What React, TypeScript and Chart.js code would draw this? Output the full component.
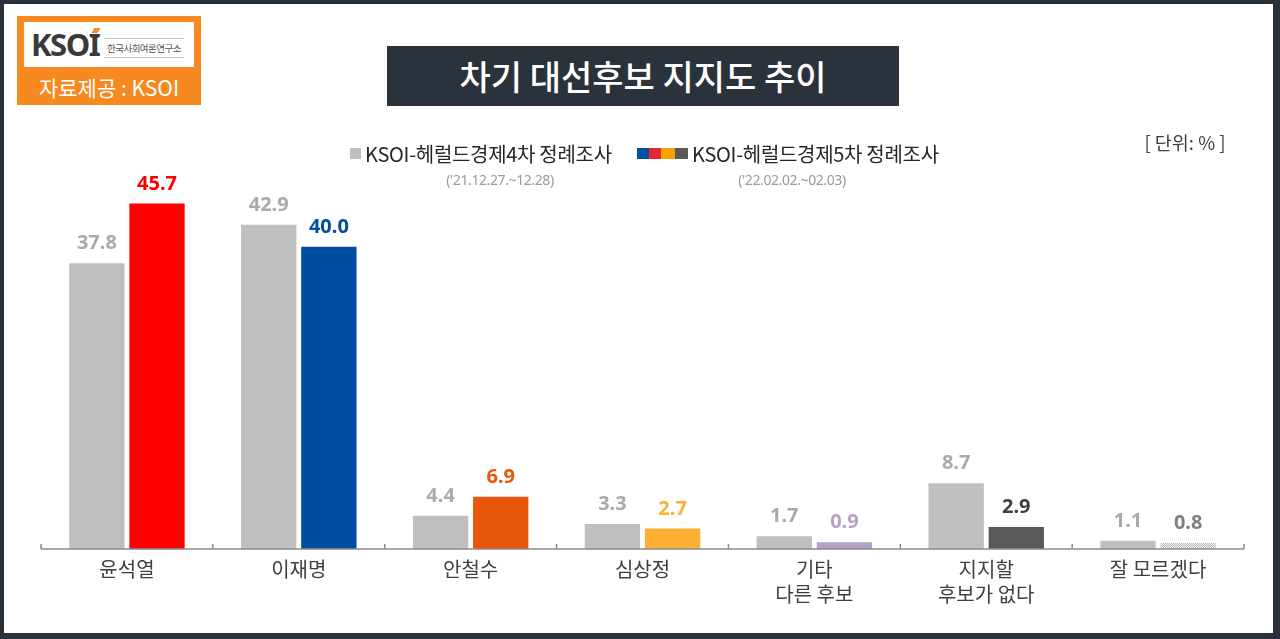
import React, { useEffect, useRef } from "react";
import { Chart, registerables } from "chart.js";

Chart.register(...registerables);

const categories: (string | string[])[] = [
  "윤석열",
  "이재명",
  "안철수",
  "심상정",
  ["기타", "다른 후보"],
  ["지지할", "후보가 없다"],
  "잘 모르겠다",
];
const survey4Values = [37.8, 42.9, 4.4, 3.3, 1.7, 8.7, 1.1];
const survey5Values = [45.7, 40.0, 6.9, 2.7, 0.9, 2.9, 0.8];
const survey4Label = "KSOI-헤럴드경제4차 정례조사";
const survey5Label = "KSOI-헤럴드경제5차 정례조사";
const survey4Period = "('21.12.27.~12.28)";
const survey5Period = "('22.02.02.~02.03)";

const gray = "#bfbfbf";
const grayLabel = "#aaaaaa";
const s5Colors = ["#ff0000", "#004ea2", "#e8560c", "#fbb034", "#b4a2c8", "#595959", "PATTERN"];
const s5LabelColors = ["#ff0000", "#004ea2", "#e8560c", "#fbb034", "#b4a2c8", "#404040", "#7f7f7f"];

const KR = '"Noto Sans CJK KR", "Noto Sans", sans-serif';

function makePattern(ctx: CanvasRenderingContext2D): CanvasPattern | string {
  const c = document.createElement("canvas");
  c.width = 2;
  c.height = 2;
  const p = c.getContext("2d");
  if (!p) return "#d0d0d0";
  p.fillStyle = "#f2f2f2";
  p.fillRect(0, 0, 2, 2);
  p.fillStyle = "#b8b8b8";
  p.fillRect(0, 0, 1, 1);
  p.fillRect(1, 1, 1, 1);
  return ctx.createPattern(c, "repeat") || "#d0d0d0";
}

const labelPlugin = {
  id: "valueLabels",
  afterDatasetsDraw(chart: any) {
    const ctx = chart.ctx;
    ctx.save();
    ctx.font = 'bold 20px "Noto Sans", sans-serif';
    ctx.textAlign = "center";
    ctx.textBaseline = "alphabetic";
    chart.data.datasets.forEach((ds: any, di: number) => {
      const meta = chart.getDatasetMeta(di);
      meta.data.forEach((bar: any, i: number) => {
        ctx.fillStyle = di === 0 ? grayLabel : s5LabelColors[i];
        ctx.fillText(Number(ds.data[i]).toFixed(1), bar.x, bar.y - 14);
      });
    });
    // axis line with upward ticks
    const area = chart.chartArea;
    ctx.strokeStyle = "#8c8c8c";
    ctx.lineWidth = 1.5;
    ctx.beginPath();
    ctx.moveTo(area.left, area.bottom);
    ctx.lineTo(area.right, area.bottom);
    const n = chart.data.labels.length;
    for (let i = 0; i <= n; i++) {
      const px = area.left + ((area.right - area.left) * i) / n;
      ctx.moveTo(px, area.bottom);
      ctx.lineTo(px, area.bottom - 5);
    }
    ctx.stroke();
    ctx.restore();
  },
};

export default function App() {
  const ref = useRef<HTMLCanvasElement | null>(null);

  useEffect(() => {
    const canvas = ref.current;
    if (!canvas) return;
    const ctx = canvas.getContext("2d") as CanvasRenderingContext2D;
    const pattern = makePattern(ctx);
    const bg5 = s5Colors.map((c) => (c === "PATTERN" ? pattern : c));
    const chart = new Chart(canvas, {
      type: "bar",
      data: {
        labels: categories as any,
        datasets: [
          {
            label: survey4Label,
            data: survey4Values,
            backgroundColor: gray,
            categoryPercentage: 0.7,
            barPercentage: 0.92,
          },
          {
            label: survey5Label,
            data: survey5Values,
            backgroundColor: bg5 as any,
            categoryPercentage: 0.7,
            barPercentage: 0.92,
          },
        ],
      },
      options: {
        animation: false,
        responsive: false,
        maintainAspectRatio: false,
        layout: { padding: { left: 41, right: 36, top: 156, bottom: 32 } },
        plugins: { legend: { display: false }, tooltip: { enabled: false }, title: { display: false } },
        scales: {
          x: {
            grid: { display: false },
            border: { display: false },
            ticks: {
              color: "#404040",
              font: { family: KR, size: 20, lineHeight: 1.25 },
              padding: 0,
              maxRotation: 0,
              autoSkip: false,
            },
          },
          y: { display: false, min: 0, max: 52 },
        },
      },
      plugins: [labelPlugin],
    });
    return () => chart.destroy();
  }, []);

  const abs = (o: React.CSSProperties): React.CSSProperties => ({ position: "absolute", ...o });

  return (
    <div style={{ position: "fixed", left: 0, top: 0, width: 1280, height: 639, background: "#283039", overflow: "hidden", fontFamily: KR }}>
      <div style={abs({ left: 4, top: 4, width: 1269, height: 629, background: "#ffffff" })} />
      <canvas ref={ref} width={1280} height={639} style={abs({ left: 0, top: 0, width: 1280, height: 639 })} />

      {/* Logo */}
      <div style={abs({ left: 17, top: 16, width: 184, height: 89, background: "#f6891f" })}>
        <div style={abs({ left: 7, top: 6, width: 170, height: 45, background: "#ffffff" })}>
          <div style={abs({ left: 7, top: 3, fontFamily: '"Noto Sans", sans-serif', fontWeight: 700, fontSize: 31, color: "#3a3a3a", letterSpacing: -1.5, lineHeight: "38px" })}>
            KSOI
          </div>
          <div style={abs({ left: 69, top: 6, width: 6, height: 5, background: "#f6891f", transform: "skewX(-30deg)" })} />
          <div style={abs({ left: 80, top: 16, width: 80, height: 1, background: "#c8c8c8" })} />
          <div style={abs({ left: 80, top: 35, width: 80, height: 1, background: "#c8c8c8" })} />
          <div style={abs({ left: 80, top: 18, width: 80, fontSize: 9.5, color: "#555555", lineHeight: "16px", textAlign: "center", letterSpacing: -0.5 })}>
            한국사회여론연구소
          </div>
        </div>
        <div style={abs({ left: 0, top: 57, width: 184, textAlign: "center", color: "#ffffff", fontSize: 21, fontWeight: 400, lineHeight: "28px" })}>
          자료제공 : KSOI
        </div>
      </div>

      {/* Title */}
      <div style={abs({ left: 387, top: 46, width: 512, height: 60, background: "#2a323b", color: "#ffffff", fontSize: 34, fontWeight: 500, lineHeight: "60px", textAlign: "center" })}>
        차기 대선후보 지지도 추이
      </div>

      {/* Unit */}
      <div style={abs({ left: 1125, top: 128, width: 120, textAlign: "center", fontSize: 18.5, color: "#404040", lineHeight: "28px" })}>
        [ 단위: % ]
      </div>

      {/* Legend */}
      <div style={abs({ left: 350, top: 148, width: 11, height: 11, background: gray })} />
      <div style={abs({ left: 365, top: 139, fontSize: 20, color: "#262626", lineHeight: "30px", whiteSpace: "nowrap", letterSpacing: -0.3 })}>
        {survey4Label}
      </div>
      <div style={abs({ left: 420, top: 169, width: 160, textAlign: "center", fontSize: 14, color: "#9a9a9a", lineHeight: "22px", letterSpacing: -0.4, fontFamily: '"Noto Sans", sans-serif' })}>
        {survey4Period}
      </div>

      <div style={abs({ left: 637, top: 148, width: 12, height: 11, background: "#0050a0" })} />
      <div style={abs({ left: 649, top: 148, width: 12, height: 11, background: "#e8262b" })} />
      <div style={abs({ left: 661, top: 148, width: 14, height: 11, background: "#f5a300" })} />
      <div style={abs({ left: 675, top: 148, width: 13, height: 11, background: "#595959" })} />
      <div style={abs({ left: 692, top: 139, fontSize: 20, color: "#262626", lineHeight: "30px", whiteSpace: "nowrap", letterSpacing: -0.3 })}>
        {survey5Label}
      </div>
      <div style={abs({ left: 712, top: 169, width: 160, textAlign: "center", fontSize: 14, color: "#9a9a9a", lineHeight: "22px", letterSpacing: -0.4, fontFamily: '"Noto Sans", sans-serif' })}>
        {survey5Period}
      </div>
    </div>
  );
}
